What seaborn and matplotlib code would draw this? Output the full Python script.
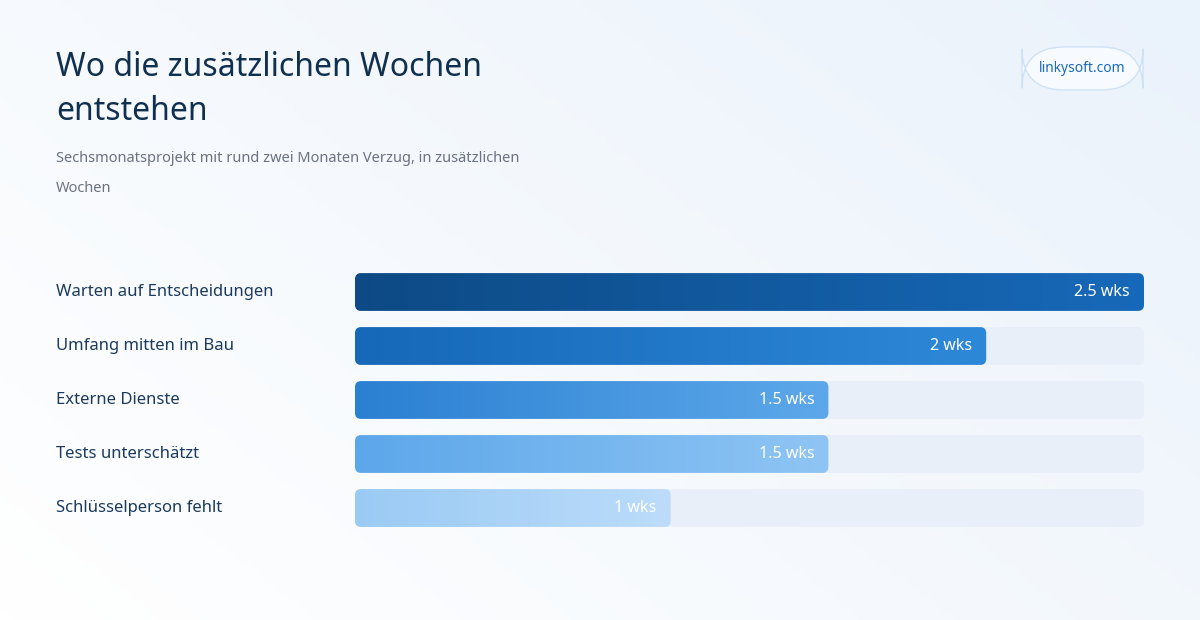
import numpy as np
import pandas as pd
import matplotlib
matplotlib.use("agg")
import matplotlib.pyplot as plt
from matplotlib.patches import FancyBboxPatch
from matplotlib.colors import LinearSegmentedColormap
import seaborn as sns

categories = ["Warten auf Entscheidungen", "Umfang mitten im Bau", "Externe Dienste",
              "Tests unterschätzt", "Schlüsselperson fehlt"]
weeks = [2.5, 2.0, 1.5, 1.5, 1.0]
value_labels = ["2.5 wks", "2 wks", "1.5 wks", "1.5 wks", "1 wks"]
gradients = [("#0d4a85", "#1769b9"), ("#1668b8", "#2e88d8"), ("#2b80d2", "#5da8ea"),
             ("#5ca7ea", "#8fc5f4"), ("#9acaf4", "#bcdcfa")]
xmax = 2.5

sns.set_theme(style="white")
plt.rcParams['font.family'] = ['Noto Sans', 'DejaVu Sans']

df = pd.DataFrame({"cat": categories, "weeks": weeks})
W, H = 1200, 620
fig = plt.figure(figsize=(12, 6.2), dpi=100)

# background gradient
bg = fig.add_axes([0, 0, 1, 1], zorder=-10)
gx, gy = np.meshgrid(np.linspace(0, 1, 200), np.linspace(0, 1, 100))
bg.imshow(gx * 0.6 + (1 - gy) * 0.4, cmap=LinearSegmentedColormap.from_list("bg", ["#ffffff", "#eaf2fb"]),
          aspect="auto", extent=[0, 1, 0, 1], origin="upper")
bg.axis("off")

ax = fig.add_axes([355 / W, (620 - 535) / H, 789 / W, 270 / H])
ax.patch.set_alpha(0)
sns.barplot(data=df, x="weeks", y="cat", ax=ax, width=0.7, color="#1668b8")
ax.set_xlim(0, xmax)
ax.set_ylim(4.5, -0.5)
ax.axis("off")

xpx = 789 / xmax
ypx = 54
r = 6 / xpx
asp = xpx / ypx
for p in list(ax.patches):
    p.set_visible(False)
for i, p in enumerate([q for q in ax.patches]):
    y0, h = p.get_y(), p.get_height()
    w = p.get_width()
    track = FancyBboxPatch((0, y0), xmax, h, boxstyle=f"round,pad=0,rounding_size={r}",
                           mutation_aspect=asp, fc="#e8eff8", ec="none", zorder=1)
    ax.add_patch(track)
    bar = FancyBboxPatch((0, y0), w, h, boxstyle=f"round,pad=0,rounding_size={r}",
                         mutation_aspect=asp, fc="none", ec="none", zorder=2)
    ax.add_patch(bar)
    cm = LinearSegmentedColormap.from_list(f"g{i}", gradients[i])
    im = ax.imshow(np.linspace(0, 1, 256)[None, :], cmap=cm, aspect="auto",
                   extent=[0, w, y0 + h, y0], zorder=2)
    im.set_clip_path(bar)
    ax.text(w - 14 / xpx, y0 + h / 2, value_labels[i], color="white", fontsize=11.5,
            fontweight="bold", ha="right", va="center", zorder=3)
    fig.text(56 / W, 1 - (292 + 54 * i) / H, categories[i], color="#1b3a5e", fontsize=12,
             ha="left", va="center")
ax.set_xlim(0, xmax)
ax.set_ylim(4.5, -0.5)

fig.text(56 / W, 1 - 68 / H, "Wo die zusätzlichen Wochen", fontsize=23, fontweight="bold",
         color="#10304f", va="center")
fig.text(56 / W, 1 - 112 / H, "entstehen", fontsize=23, fontweight="bold",
         color="#10304f", va="center")
fig.text(56 / W, 1 - 159 / H, "Sechsmonatsprojekt mit rund zwei Monaten Verzug, in zusätzlichen",
         fontsize=10.5, color="#6b7280", va="center")
fig.text(56 / W, 1 - 189 / H, "Wochen", fontsize=10.5, color="#6b7280", va="center")

# badge
pill = FancyBboxPatch((1022 / W, 1 - 90 / H), 121 / W, 43 / H,
                      boxstyle="round,pad=0,rounding_size=0.035", mutation_aspect=1.9,
                      transform=fig.transFigure, fc="#f7fbff", ec="#cfe2f5", lw=1)
fig.add_artist(pill)
fig.text(1082.5 / W, 1 - 69 / H, "linkysoft.com", fontsize=10, fontweight="bold",
         color="#1a6bbf", ha="center", va="center")

fig.savefig("out.png", dpi=100)
